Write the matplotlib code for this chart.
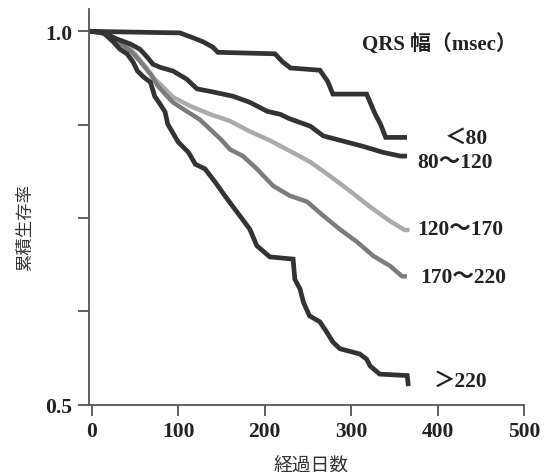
import numpy as np
import matplotlib
matplotlib.use("Agg")
import matplotlib.pyplot as plt

plt.rcParams['font.family'] = ['Liberation Serif', 'Noto Sans CJK JP']

# Kaplan-Meier style curves (days, cumulative survival)
days_lt80 = [0, 102, 116, 129, 140, 146, 212, 221, 230, 264, 273, 279, 318, 328, 334, 340, 362]
surv_lt80 = [1.0, 0.998, 0.992, 0.986, 0.979, 0.972, 0.970, 0.959, 0.951, 0.948, 0.933, 0.916, 0.916, 0.889, 0.876, 0.858, 0.858]

days_80_120 = [0, 12, 29, 45, 56, 64, 71, 79, 94, 110, 122, 140, 164, 183, 203, 218, 229, 253, 268, 291, 314, 337, 357, 362]
surv_80_120 = [1.0, 0.999, 0.990, 0.983, 0.976, 0.966, 0.956, 0.952, 0.947, 0.936, 0.923, 0.919, 0.913, 0.905, 0.893, 0.889, 0.883, 0.873, 0.860, 0.853, 0.846, 0.838, 0.833, 0.833]

days_120_170 = [0, 10, 25, 39, 50, 64, 73, 83, 94, 114, 137, 160, 183, 206, 229, 253, 276, 299, 322, 345, 362, 365]
surv_120_170 = [1.0, 0.998, 0.992, 0.983, 0.970, 0.950, 0.936, 0.925, 0.912, 0.900, 0.889, 0.880, 0.866, 0.854, 0.840, 0.825, 0.806, 0.786, 0.765, 0.746, 0.734, 0.734]

days_170_220 = [0, 12, 29, 45, 56, 68, 76, 85, 94, 110, 125, 137, 149, 160, 175, 191, 210, 229, 249, 268, 287, 307, 326, 345, 359, 362]
surv_170_220 = [1.0, 0.998, 0.987, 0.974, 0.960, 0.943, 0.928, 0.916, 0.905, 0.893, 0.882, 0.869, 0.856, 0.842, 0.833, 0.816, 0.793, 0.780, 0.772, 0.753, 0.735, 0.718, 0.699, 0.686, 0.672, 0.672]

days_gt220 = [0, 14, 25, 33, 41, 48, 53, 60, 68, 73, 79, 85, 88, 100, 112, 120, 131, 143, 154, 163, 174, 183, 191, 206, 233, 235, 241, 245, 252, 264, 272, 279, 287, 310, 318, 322, 333, 365, 366]
surv_gt220 = [1.0, 0.998, 0.986, 0.976, 0.970, 0.959, 0.947, 0.939, 0.932, 0.913, 0.903, 0.892, 0.876, 0.852, 0.838, 0.822, 0.816, 0.798, 0.780, 0.766, 0.749, 0.735, 0.713, 0.698, 0.695, 0.668, 0.655, 0.637, 0.619, 0.611, 0.597, 0.584, 0.575, 0.568, 0.561, 0.552, 0.541, 0.539, 0.528]

group_labels = ['＜80', '80～120', '120～170', '170～220', '＞220']

fig = plt.figure(figsize=(5.51, 4.77), dpi=100)
ax = fig.add_axes([89 / 551, 1 - 405.7 / 477, 435 / 551, 395.7 / 477])

# lighter curves first, dark ones on top
ax.plot(days_120_170, surv_120_170, color='#ababab', linewidth=3.2, solid_joinstyle='miter')
ax.plot(days_170_220, surv_170_220, color='#7c7c7c', linewidth=3.2, solid_joinstyle='miter')
ax.plot(days_lt80, surv_lt80, color='#333333', linewidth=3.4, solid_joinstyle='miter')
ax.plot(days_80_120, surv_80_120, color='#333333', linewidth=3.4, solid_joinstyle='miter')
ax.plot(days_gt220, surv_gt220, color='#333333', linewidth=3.4, solid_joinstyle='miter')

ax.set_xlim(-3, 500)
ax.set_ylim(0.5, 1.03)
ax.set_xticks([0, 100, 200, 300, 400, 500])
ax.set_yticks([0.5, 0.625, 0.75, 0.875, 1.0])
ax.set_yticklabels(['0.5', '', '', '', '1.0'])

for side in ['top', 'right']:
    ax.spines[side].set_visible(False)
for side in ['left', 'bottom']:
    ax.spines[side].set_color('#555555')
    ax.spines[side].set_linewidth(1.3)
ax.tick_params(direction='out', length=8, width=1.3, color='#555555', labelsize=15.5, pad=4)
for lab in ax.get_xticklabels() + ax.get_yticklabels():
    lab.set_fontweight('bold')
    lab.set_color('#222222')

ax.set_xlabel('経過日数', family='Noto Sans CJK JP', fontsize=13.5, color='#333333', va='center')
ax.xaxis.set_label_coords(0.511, -0.152)
ax.set_ylabel('累積生存率', family='Noto Sans CJK JP', fontsize=12.5, color='#333333', va='center')
ax.yaxis.set_label_coords(-0.147, 0.45)

# curve labels
ax.text(313, 0.983, 'QRS 幅（msec）', fontsize=15, fontweight='bold', color='#222222', va='center')
label_x = [409, 377, 377, 380, 395]
label_y = [0.858, 0.825, 0.735, 0.671, 0.532]
for t, lx, ly in zip(group_labels, label_x, label_y):
    ax.text(lx, ly, t, fontsize=15.5, fontweight='bold', color='#222222', va='center', clip_on=False)

fig.savefig('out.png', dpi=100)
